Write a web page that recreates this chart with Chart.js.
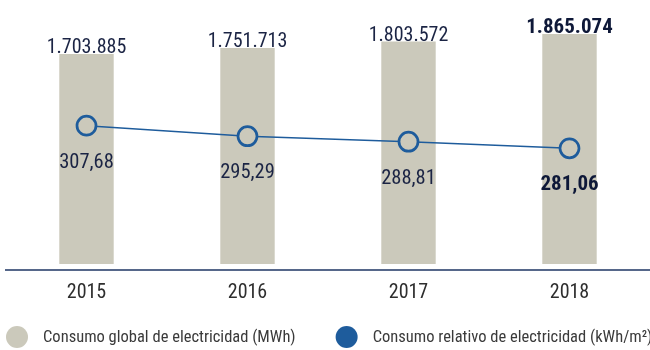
<!DOCTYPE html>
<html>
<head>
<meta charset="utf-8">
<script src="https://cdn.jsdelivr.net/npm/chart.js@4/dist/chart.umd.min.js"></script>
<style>
  html, body { margin: 0; padding: 0; background: #fff; }
  #wrap { width: 650px; height: 350px; }
</style>
</head>
<body>
<div id="wrap"><canvas id="consumo"></canvas></div>
<script>
const years = ['2015', '2016', '2017', '2018'];
const consumoGlobal = [1703885, 1751713, 1803572, 1865074];   // MWh
const consumoRelativo = [307.68, 295.29, 288.81, 281.06];     // kWh/m²
const seriesNames = [
  'Consumo global de electricidad (MWh)',
  'Consumo relativo de electricidad (kWh/m²)'
];

const FONT = "'Roboto Condensed', 'DejaVu Sans Condensed', sans-serif";
const BAR_COLOR = '#cbc9bb';
const BLUE = '#1e5c9c';
const NAVY = '#1b2444';
const DARK_NAVY = '#0e1838';

function fmtMiles(n) {
  return String(n).replace(/\B(?=(\d{3})+(?!\d))/g, '.');
}

function fmtDecimal(n) {
  return n.toFixed(2).replace('.', ',');
}

// numbers above the bars and under the line points, last year in bold
const valueLabels = {
  id: 'valueLabels',
  afterDatasetsDraw(chart) {
    const ctx = chart.ctx;
    const last = years.length - 1;
    ctx.save();
    ctx.textAlign = 'center';
    ctx.textBaseline = 'alphabetic';

    chart.getDatasetMeta(0).data.forEach((bar, i) => {
      ctx.font = i === last ? 'bold 21px ' + FONT : '20px ' + FONT;
      ctx.fillStyle = i === last ? DARK_NAVY : NAVY;
      ctx.fillText(fmtMiles(consumoGlobal[i]), bar.x, bar.y - 1);
    });

    chart.getDatasetMeta(1).data.forEach((pt, i) => {
      ctx.font = i === last ? 'bold 21px ' + FONT : '20.5px ' + FONT;
      ctx.fillStyle = i === last ? DARK_NAVY : NAVY;
      ctx.fillText(fmtDecimal(consumoRelativo[i]), pt.x, pt.y + 42);
    });
    ctx.restore();
  }
};

// legend row at the bottom: filled circles + text
const bottomLegend = {
  id: 'bottomLegend',
  afterDraw(chart) {
    const ctx = chart.ctx;
    const colors = [BAR_COLOR, BLUE];
    const r = 11;
    const y = chart.height - 13;
    let x = 6;
    ctx.save();
    ctx.font = '16.5px ' + FONT;
    ctx.textBaseline = 'middle';
    ctx.textAlign = 'left';
    chart.data.datasets.forEach((ds, i) => {
      ctx.beginPath();
      ctx.arc(x + r, y, r, 0, Math.PI * 2);
      ctx.fillStyle = colors[i];
      ctx.fill();
      ctx.fillStyle = '#3a3a3a';
      ctx.fillText(ds.label, x + r + 26, y + 1);
      x += r + 26 + ctx.measureText(ds.label).width + 40;
    });
    ctx.restore();
  }
};

Chart.defaults.font.family = FONT;

new Chart(document.getElementById('consumo'), {
  type: 'bar',
  data: {
    labels: years,
    datasets: [
      {
        label: seriesNames[0],
        data: consumoGlobal,
        backgroundColor: BAR_COLOR,
        barPercentage: 0.338,
        categoryPercentage: 1,
        yAxisID: 'y',
        order: 2
      },
      {
        label: seriesNames[1],
        type: 'line',
        data: consumoRelativo,
        borderColor: BLUE,
        borderWidth: 1.5,
        pointRadius: 9.5,
        pointBorderWidth: 2.7,
        pointBorderColor: BLUE,
        pointBackgroundColor: BAR_COLOR,
        fill: false,
        tension: 0,
        yAxisID: 'y2',
        order: 1
      }
    ]
  },
  options: {
    responsive: true,
    maintainAspectRatio: false,
    animation: false,
    layout: {
      autoPadding: false,
      padding: { top: 10, left: 6, right: 0, bottom: 34.5 }
    },
    scales: {
      x: {
        grid: { display: false, drawTicks: false },
        border: { display: true, color: '#56678a', width: 2 },
        ticks: {
          padding: 11,
          color: '#2e2e2e',
          font: { size: 20 }
        },
        afterFit(scale) {
          // keep the axis running the full width, no room reserved for the end labels
          scale.paddingLeft = 0;
          scale.paddingRight = 0;
        }
      },
      y: {
        display: false,
        min: -44600,
        max: 2059700
      },
      y2: {
        display: false,
        min: 138.3,
        max: 443.96
      }
    },
    plugins: {
      legend: { display: false },
      tooltip: { enabled: false }
    }
  },
  plugins: [valueLabels, bottomLegend]
});
</script>
</body>
</html>
